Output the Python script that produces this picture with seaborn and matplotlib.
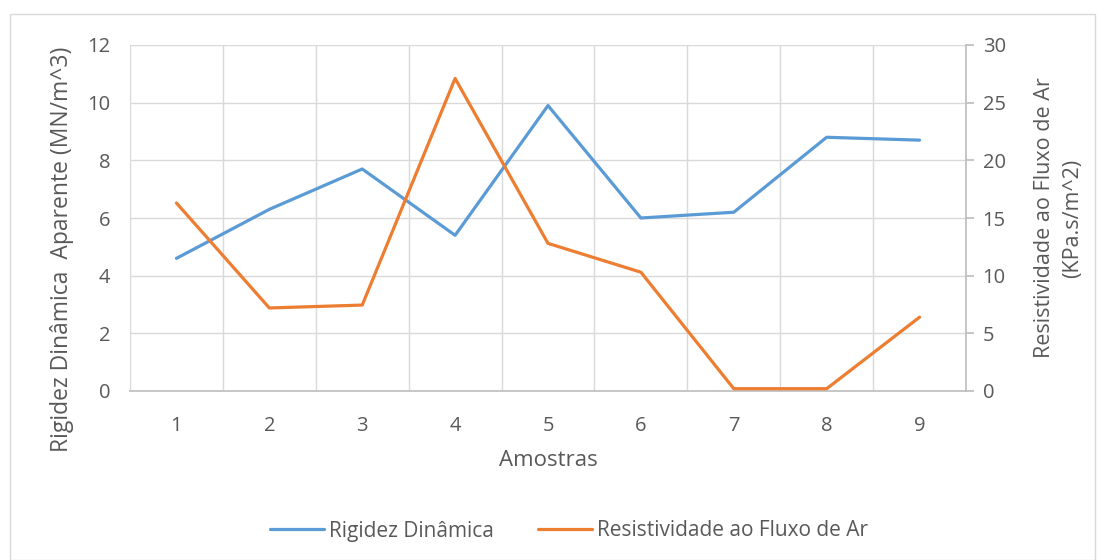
import numpy as np
import pandas as pd
import matplotlib
matplotlib.use("Agg")
import matplotlib.pyplot as plt
import seaborn as sns
from matplotlib.patches import Rectangle

amostras = [1, 2, 3, 4, 5, 6, 7, 8, 9]
rigidez = [4.6, 6.3, 7.7, 5.4, 9.9, 6.0, 6.2, 8.8, 8.7]
resistividade = [16.3, 7.2, 7.45, 27.1, 12.8, 10.3, 0.2, 0.2, 6.4]

df = pd.DataFrame({"Amostra": amostras, "Rigidez": rigidez, "Resist": resistividade})

sns.set_theme(style="white")
plt.rcParams["font.family"] = ["Open Sans", "DejaVu Sans"]

txt = "#595959"
grid = "#d9d9d9"
blue = "#5b9bd5"
orange = "#ed7d31"

fig = plt.figure(figsize=(11.05, 5.6), dpi=100)
fig.patches.append(Rectangle((10 / 1105, 0.0), 1085 / 1105, 1 - 14 / 560, transform=fig.transFigure,
                             fill=False, edgecolor=grid, linewidth=1))
ax = fig.add_axes([130 / 1105, 1 - 391 / 560, (966 - 130) / 1105, (391 - 45) / 560])
ax2 = ax.twinx()

sns.lineplot(data=df, x="Amostra", y="Rigidez", ax=ax, color=blue, linewidth=2.3,
             label="Rigidez Dinâmica", legend=False)
sns.lineplot(data=df, x="Amostra", y="Resist", ax=ax2, color=orange, linewidth=2.3,
             label="Resistividade ao Fluxo de Ar", legend=False)

ax.set_xlim(0.5, 9.5)
ax.set_ylim(0, 12)
ax2.set_ylim(0, 30)
ax.set_yticks(range(0, 13, 2))
ax2.set_yticks(range(0, 31, 5))
ax.set_xticks(amostras)
ax.set_xticks(np.arange(0.5, 9.6, 1), minor=True)

ax.grid(True, axis="y", which="major", color=grid, linewidth=1)
ax.grid(True, axis="x", which="minor", color=grid, linewidth=1)
ax.set_axisbelow(True)

for a in (ax, ax2):
    for s in a.spines.values():
        s.set_visible(False)
ax.spines["bottom"].set_visible(True)
ax.spines["bottom"].set_color("#bfbfbf")
ax2.spines["right"].set_visible(True)
ax2.spines["right"].set_color("#bfbfbf")

ax.tick_params(axis="y", which="both", length=0, labelsize=14.5, labelcolor=txt, pad=14)
ax.tick_params(axis="x", which="both", length=0, labelsize=14.5, labelcolor=txt, pad=18)
ax2.tick_params(axis="y", length=6, color="#bfbfbf", labelsize=14.5, labelcolor=txt, pad=6)

ax.set_xlabel("Amostras", fontsize=16, color=txt, labelpad=10)
ax.set_ylabel("Rigidez Dinâmica  Aparente (MN/m^3)", fontsize=16.5, color=txt)
ax.yaxis.set_label_coords(-0.067, 0.41)
ax2.set_ylabel("Resistividade ao Fluxo de Ar\n(KPa.s/m^2)", fontsize=15.5, color=txt, labelpad=20,
               linespacing=1.45)

h1, l1 = ax.get_legend_handles_labels()
h2, l2 = ax2.get_legend_handles_labels()
fig.legend(h1 + h2, l1 + l2, loc="center", bbox_to_anchor=(0.515, 1 - 531 / 560), ncol=2,
           frameon=False, fontsize=15, labelcolor=txt, handlelength=2.6, handletextpad=0.25,
           columnspacing=2.1)

fig.savefig("out.png", dpi=100)
